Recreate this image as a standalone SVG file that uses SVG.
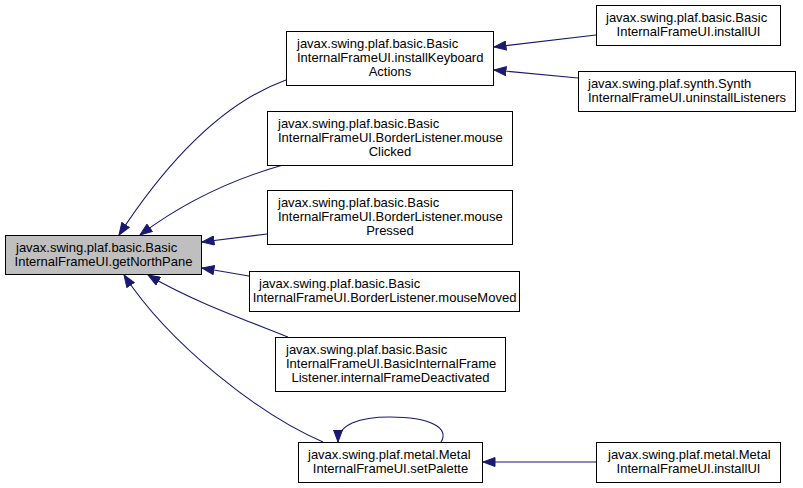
<svg xmlns="http://www.w3.org/2000/svg" width="803" height="488" viewBox="0 0 803 488">
  <style>
    .box { fill: #ffffff; stroke: #000000; stroke-width: 1; }
    .box.main { fill: #bfbfbf; }
    text { font-family: "Liberation Sans", Arial, sans-serif; font-size: 13px; fill: #000000; }
    .c { text-anchor: middle; }
    .edge { fill: none; stroke: #191970; stroke-width: 1.1; marker-end: url(#arrow); }
  </style>
  <defs>
    <marker id="arrow" markerUnits="userSpaceOnUse" markerWidth="13" markerHeight="10" refX="12.5" refY="5" orient="auto">
      <path d="M0.5,0.5 L12.5,5 L0.5,9.5 z" fill="#191970" stroke="#191970" stroke-width="1"/>
    </marker>
  </defs>

  <rect width="803" height="488" fill="#ffffff"/>

  <!-- connectors: callers point at the function they call -->
  <g id="edges">
    <path class="edge" d="M286,80 C225,102 168,160 119,235"/>
    <path class="edge" d="M283,165 C230,180 180,205 140,235"/>
    <path class="edge" d="M267,234 L202,242"/>
    <path class="edge" d="M249,276 L202,268"/>
    <path class="edge" d="M288,337 C240,318 190,300 148,275"/>
    <path class="edge" d="M323,442 C260,415 170,345 124,275"/>
    <path class="edge" d="M441,442 C450,428 430,417 390,417 C360,417 338,424 338,442"/>
    <path class="edge" d="M596,462 L483,462"/>
    <path class="edge" d="M596,35 L494,47"/>
    <path class="edge" d="M578,78 L494,70"/>
  </g>

  <g id="getNorthPane">
    <rect class="box main" x="5.5" y="235.5" width="196" height="39"/>
    <text x="16" y="252">javax.swing.plaf.basic.Basic</text>
    <text class="c" x="103.5" y="266">InternalFrameUI.getNorthPane</text>
  </g>

  <g id="installKeyboardActions">
    <rect class="box" x="286.5" y="31.5" width="207" height="54"/>
    <text x="297" y="48">javax.swing.plaf.basic.Basic</text>
    <text x="297" y="62">InternalFrameUI.installKeyboard</text>
    <text class="c" x="390" y="76">Actions</text>
  </g>

  <g id="basicInstallUI">
    <rect class="box" x="596.5" y="5.5" width="184" height="40"/>
    <text x="606" y="22">javax.swing.plaf.basic.Basic</text>
    <text class="c" x="688.5" y="36">InternalFrameUI.installUI</text>
  </g>

  <g id="uninstallListeners">
    <rect class="box" x="578.5" y="71.5" width="217" height="40"/>
    <text x="588" y="88">javax.swing.plaf.synth.Synth</text>
    <text class="c" x="687" y="102">InternalFrameUI.uninstallListeners</text>
  </g>

  <g id="mouseClicked">
    <rect class="box" x="267.5" y="111.5" width="245" height="54"/>
    <text x="278" y="128">javax.swing.plaf.basic.Basic</text>
    <text x="278" y="142">InternalFrameUI.BorderListener.mouse</text>
    <text class="c" x="390" y="156">Clicked</text>
  </g>

  <g id="mousePressed">
    <rect class="box" x="267.5" y="190.5" width="245" height="54"/>
    <text x="278" y="207">javax.swing.plaf.basic.Basic</text>
    <text x="278" y="221">InternalFrameUI.BorderListener.mouse</text>
    <text class="c" x="390" y="235">Pressed</text>
  </g>

  <g id="mouseMoved">
    <rect class="box" x="249.5" y="271.5" width="270" height="40"/>
    <text x="259" y="288">javax.swing.plaf.basic.Basic</text>
    <text class="c" x="384.5" y="302">InternalFrameUI.BorderListener.mouseMoved</text>
  </g>

  <g id="internalFrameDeactivated">
    <rect class="box" x="275.5" y="337.5" width="230" height="54"/>
    <text x="286" y="354">javax.swing.plaf.basic.Basic</text>
    <text x="286" y="368">InternalFrameUI.BasicInternalFrame</text>
    <text class="c" x="390.5" y="382">Listener.internalFrameDeactivated</text>
  </g>

  <g id="setPalette">
    <rect class="box" x="298.5" y="442.5" width="184" height="40"/>
    <text x="308" y="459">javax.swing.plaf.metal.Metal</text>
    <text class="c" x="390.5" y="473">InternalFrameUI.setPalette</text>
  </g>

  <g id="metalInstallUI">
    <rect class="box" x="596.5" y="442.5" width="184" height="40"/>
    <text x="608" y="459">javax.swing.plaf.metal.Metal</text>
    <text class="c" x="688.5" y="473">InternalFrameUI.installUI</text>
  </g>
</svg>
